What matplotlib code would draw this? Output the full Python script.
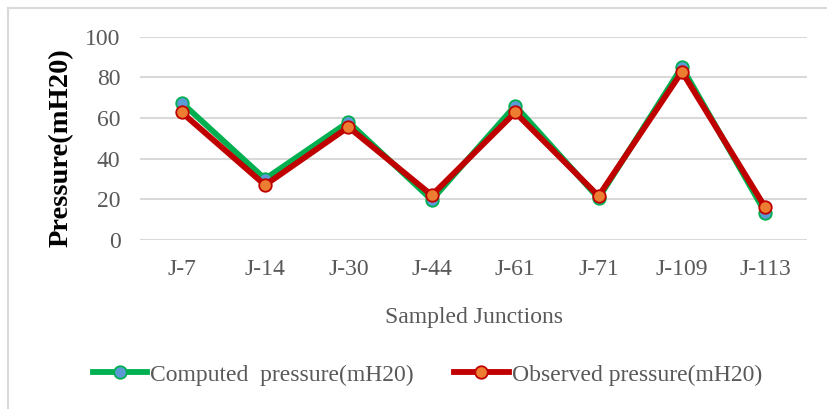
import matplotlib.pyplot as plt
from matplotlib.lines import Line2D

plt.rcParams['font.family'] = ['Liberation Serif', 'DejaVu Serif']

# values
junctions = ['J-7', 'J-14', 'J-30', 'J-44', 'J-61', 'J-71', 'J-109', 'J-113']
computed = [67.5, 30, 58, 19.7, 66, 20.5, 85, 13.4]
observed = [62.7, 27, 55.5, 22, 62.7, 21.6, 82.7, 16]
yticks = [0, 20, 40, 60, 80, 100]

grey = '#595959'

fig = plt.figure(figsize=(8.27, 4.09), dpi=100)
ax = fig.add_axes([140/827, 1-240/409, 667/827, (240-36.5)/409])

x = range(len(junctions))
ax.plot(x, computed, color='#00B050', lw=4.2, marker='o', ms=9,
        mfc='#5B9BD5', mec='#00B050', mew=1.3, label='Computed  pressure(mH20)',
        solid_joinstyle='miter', zorder=3)
ax.plot(x, observed, color='#C00000', lw=4.2, marker='o', ms=9,
        mfc='#ED7D31', mec='#C00000', mew=1.3, label='Observed pressure(mH20)',
        solid_joinstyle='miter', zorder=4)

ax.set_xlim(-0.5, len(junctions) - 0.5)
ax.set_ylim(0, 100)
ax.set_yticks(yticks)
ax.set_xticks(list(x))
ax.set_xticklabels(junctions)
ax.grid(axis='y', color='#D9D9D9', lw=1.5)
ax.set_axisbelow(True)
for s in ax.spines.values():
    s.set_visible(False)
ax.tick_params(axis='both', length=0, labelsize=17, labelcolor=grey)
ax.tick_params(axis='y', pad=14)
ax.tick_params(axis='x', pad=14)

fig.text(473.5/827, 1-323/409, 'Sampled Junctions', ha='center', va='baseline',
         fontsize=17, color=grey)
fig.text(61/827, 1-147.5/409, 'Pressure(mH20)', ha='center', va='center',
         rotation=90, fontsize=20.5, fontweight='bold', color='black')

leg = fig.legend(loc='center', bbox_to_anchor=(427.5/827, 1-375/409), ncol=2,
                 frameon=False, fontsize=17, handlelength=2.3, handletextpad=0.15,
                 columnspacing=1.7, borderpad=0, borderaxespad=0)
for t in leg.get_texts():
    t.set_color(grey)

# chart border (only left and top edges show)
fig.add_artist(Line2D([8/827, 8/827], [0, 1-8/409], color='#D9D9D9', lw=1.5))
fig.add_artist(Line2D([8/827, 1], [1-8/409, 1-8/409], color='#D9D9D9', lw=1.5))

fig.savefig('out.png', dpi=100)
